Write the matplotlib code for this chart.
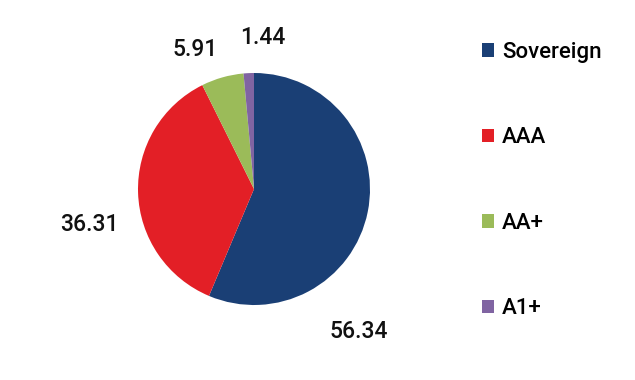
import matplotlib
matplotlib.use("Agg")
import matplotlib.pyplot as plt
from matplotlib.patches import Patch

plt.rcParams['font.family'] = ['Roboto', 'DejaVu Sans']

ratings = ["Sovereign", "AAA", "AA+", "A1+"]
shares = [56.34, 36.31, 5.91, 1.44]
colours = ["#1a3f75", "#e31f26", "#9bbb59", "#8064a2"]

# where each value label sits, in pie radius units
label_pos = [(0.90, -1.23), (-1.42, -0.31), (-0.51, 1.20), (0.08, 1.31)]

fig = plt.figure(figsize=(6.35, 3.8), dpi=100)
W, H = 635, 380
cx, cy, R = 254, 380 - 189, 116
ax = fig.add_axes([(cx - 1.7 * R) / W, (cy - 1.55 * R) / H, 3.4 * R / W, 3.1 * R / H])

ax.pie(shares, colors=colours, startangle=90, counterclock=False, radius=1,
       wedgeprops=dict(linewidth=0))
ax.set_xlim(-1.7, 1.7)
ax.set_ylim(-1.55, 1.55)
ax.axis("off")

for val, (x, y) in zip(shares, label_pos):
    ax.text(x, y, f"{val:.2f}", ha="center", va="center", fontsize=16.5,
            fontweight="medium", color="#111111")

handles = [Patch(facecolor=c, edgecolor="none") for c in colours]
fig.legend(handles, ratings, loc="upper left", bbox_to_anchor=(482 / W, 1 - 42 / H),
           frameon=False, prop=dict(size=16, weight="medium"), labelspacing=2.9,
           handlelength=0.55, handleheight=0.55, handletextpad=0.35,
           borderpad=0, borderaxespad=0)

fig.savefig("out.png", dpi=100)
